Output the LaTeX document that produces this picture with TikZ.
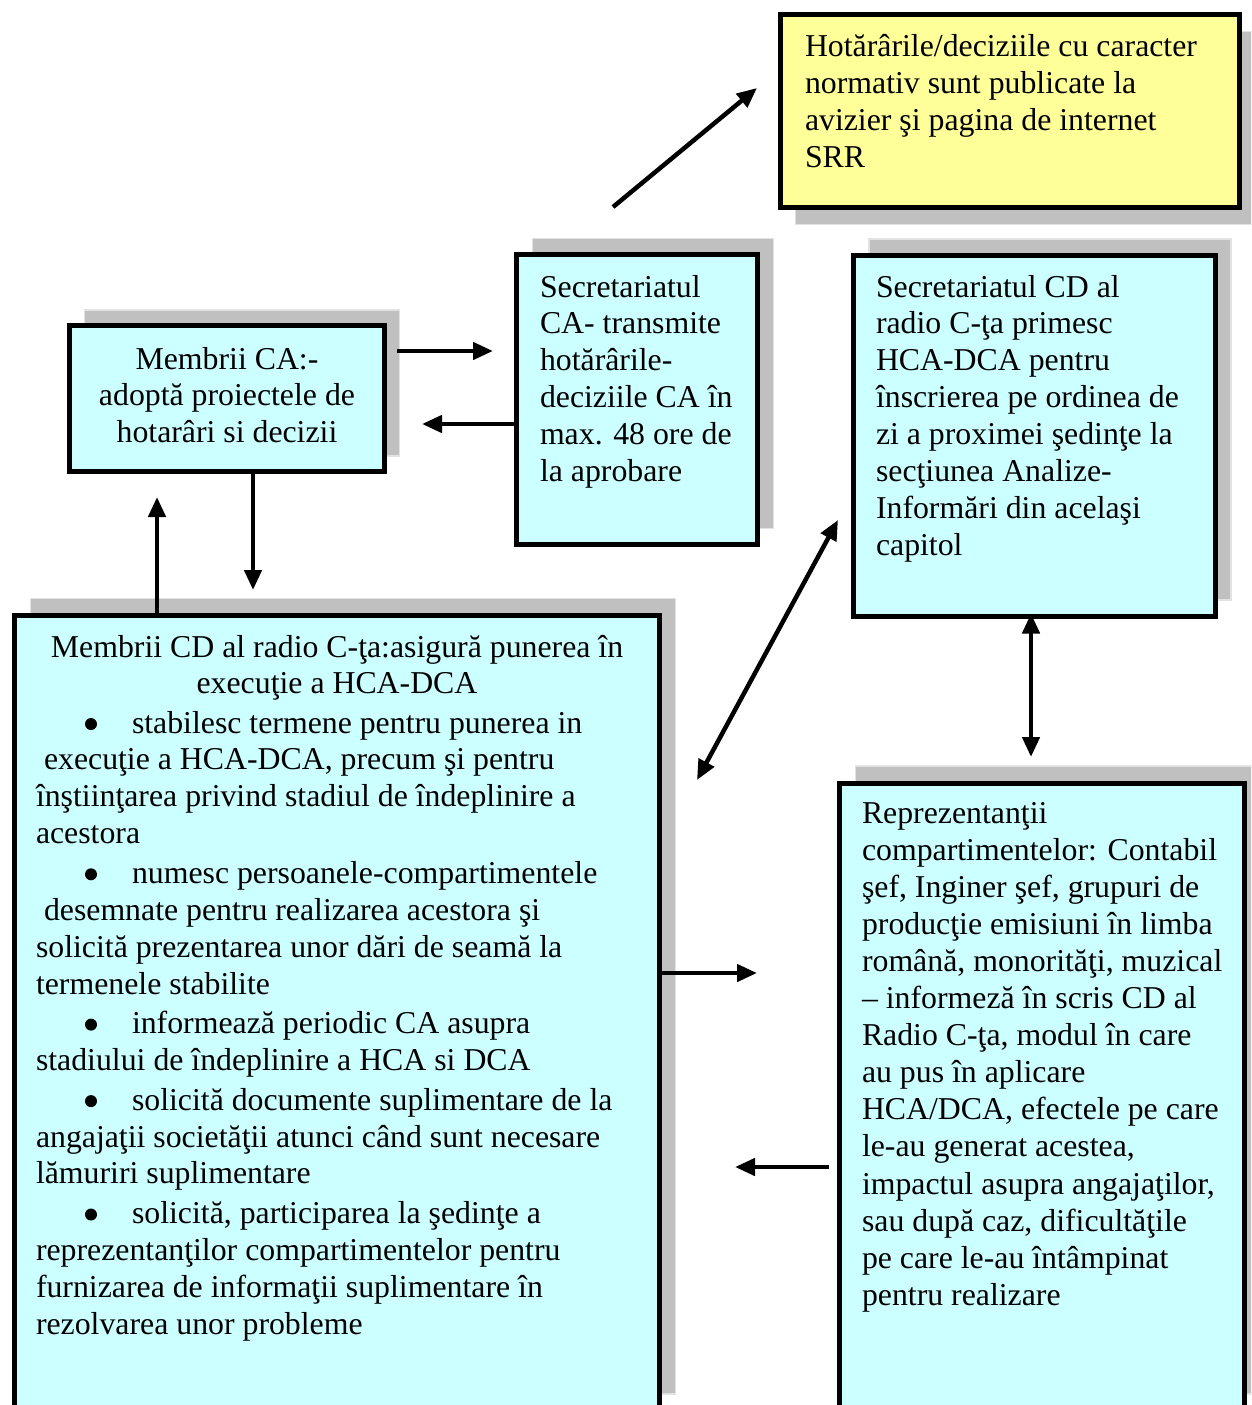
\documentclass[tikz,border=0pt]{standalone}
\usepackage{fontspec}
\setmainfont{Liberation Serif}
\usetikzlibrary{arrows.meta}
\definecolor{boxcyan}{HTML}{CCFFFF}
\definecolor{boxyellow}{HTML}{FFFF99}
\definecolor{shadowgray}{HTML}{C0C0C0}
\definecolor{shadowedge}{HTML}{E2E2E2}
\newcommand\txtfont{\fontsize{31.8}{36.9}\selectfont}
\newcommand\bul{\hspace*{96pt}}
\begin{document}
\begin{tikzpicture}[x=1pt,y=-1pt,
  box/.style={draw=black, line width=5pt, inner sep=0pt, outer sep=0pt, fill=boxcyan},
  shadebox/.style={fill=shadowgray, draw=shadowedge, line width=1.5pt},
  txtnode/.style={inner sep=0pt, outer sep=0pt, anchor=base west, font=\txtfont},
  bulletdot/.style={fill=black},
  arr/.style={line width=4.5pt, -{Triangle[length=20pt,width=17pt]}},
  darr/.style={line width=4.5pt, {Triangle[length=20pt,width=17pt]}-{Triangle[length=20pt,width=17pt]}}]
\useasboundingbox (0,0) rectangle (1251,1405);
\clip (0,0) rectangle (1251,1405);
\fill[white] (0,0) rectangle (1251,1405);

% boxes (placed first invisibly to get anchors)
\path
  node[box, fill=boxyellow, draw=none, minimum width=459pt, minimum height=193pt] (ylw) at (1010,111) {}
  node[box, draw=none, minimum width=241pt, minimum height=290pt] (seca) at (637,399.5) {}
  node[box, draw=none, minimum width=315pt, minimum height=146pt] (mca) at (227,398) {}
  node[box, draw=none, minimum width=362pt, minimum height=361pt] (secd) at (1034,435.5) {}
  node[box, draw=none, minimum width=645pt, minimum height=795.5pt] (big) at (337,1013.25) {}
  node[box, draw=none, minimum width=404.5pt, minimum height=628pt] (rep) at (1041.75,1097) {};

% shadows
\filldraw[shadebox] ([shift={(15,17)}]ylw.south west) rectangle ([shift={(15,17)}]ylw.north east);
\filldraw[shadebox] ([shift={(16,-16)}]seca.south west) rectangle ([shift={(16,-16)}]seca.north east);
\filldraw[shadebox] ([shift={(15,-15)}]mca.south west) rectangle ([shift={(15,-15)}]mca.north east);
\filldraw[shadebox] ([shift={(16,-16)}]secd.south west) rectangle ([shift={(16,-16)}]secd.north east);
\filldraw[shadebox] ([shift={(16,-17)}]big.south west) rectangle ([shift={(16,-17)}]big.north east);
\filldraw[shadebox] ([shift={(16,-17)}]rep.south west) rectangle ([shift={(16,-17)}]rep.north east);

% visible boxes
\draw[line width=5pt, fill=boxyellow] (ylw.south west) rectangle (ylw.north east);
\foreach \b in {seca,mca,secd,big,rep}
  \draw[line width=5pt, fill=boxcyan] (\b.south west) rectangle (\b.north east);

% texts
\node[txtnode] (ylwt) at (805,57) {\parbox[t]{440pt}{\raggedright
Hotărârile/deciziile cu caracter\\
normativ sunt publicate la\\
avizier şi pagina de internet\\
SRR}};

\node[txtnode] (secat) at (540,297) {\parbox[t]{215pt}{\raggedright
Secretariatul\\
CA- transmite\\
hotărârile-\\
deciziile CA în\\
max. 48 ore de\\
la aprobare}};

\node[txtnode, anchor=base] (mcat) at (227,369) {\parbox[t]{300pt}{\centering
Membrii CA:-\\
adoptă proiectele de\\
hotarâri si decizii}};

\node[txtnode] (secdt) at (876,297) {\parbox[t]{335pt}{\raggedright
Secretariatul CD al\\
radio C-ţa primesc\\
HCA-DCA pentru\\
înscrierea pe ordinea de\\
zi a proximei şedinţe la\\
secţiunea Analize-\\
Informări din acelaşi\\
capitol}};

\node[txtnode, anchor=base] (bigt) at (337,657) {\parbox[t]{620pt}{\centering
Membrii CD al radio C-ţa:asigură punerea în\\
execuţie a HCA-DCA}};

\node[txtnode] (bigl) at (36,733) {\parbox[t]{615pt}{\raggedright
\bul stabilesc termene pentru punerea in\\
\hspace*{8pt}execuţie a HCA-DCA, precum şi pentru\\
înştiinţarea privind stadiul de îndeplinire a\\
acestora\\[2.7pt]
\bul numesc persoanele-compartimentele\\
\hspace*{8pt}desemnate pentru realizarea acestora şi\\
solicită prezentarea unor dări de seamă la\\
termenele stabilite\\[2.7pt]
\bul informează periodic CA asupra\\
stadiului de îndeplinire a HCA si DCA\\[2.7pt]
\bul solicită documente suplimentare de la\\
angajaţii societăţii atunci când sunt necesare\\
lămuriri suplimentare\\[2.7pt]
\bul solicită, participarea la şedinţe a\\
reprezentanţilor compartimentelor pentru\\
furnizarea de informaţii suplimentare în\\
rezolvarea unor probleme}};

% bullet dots (baselines 733, 883.3, 1033.6, 1110.1, 1223.5)
\foreach \by in {733, 883.3, 1033.6, 1110.1, 1223.5}
  \fill[bulletdot] (91,\by-9) circle (6pt);

\node[txtnode, font=\fontsize{31.8}{37.1}\selectfont] (rept) at (862,823) {\parbox[t]{375pt}{\raggedright
Reprezentanţii\\
compartimentelor: Contabil\\
şef, Inginer şef, grupuri de\\
producţie emisiuni în limba\\
română, monorităţi, muzical\\
– informeză în scris CD al\\
Radio C-ţa, modul în care\\
au pus în aplicare\\
HCA/DCA, efectele pe care\\
le-au generat acestea,\\
impactul asupra angajaţilor,\\
sau după caz, dificultăţile\\
pe care le-au întâmpinat\\
pentru realizare}};

% arrow end points
\coordinate (a1s) at (613,207);
\coordinate (a1e) at (757,88);
\coordinate (a2s) at (397,351);
\coordinate (a2e) at (493,351);
\coordinate (a3e) at (422,424);
\coordinate (a4e) at (253,590);
\coordinate (a5e) at (157,497);
\coordinate (a6a) at (838,520);
\coordinate (a6b) at (697,780);
\coordinate (a7e) at (1031,757);
\coordinate (a8e) at (757,973);
\coordinate (a9s) at (829,1167);
\coordinate (a9e) at (735,1167);

% connectors
\draw[arr] (a1s) -- (a1e);
\draw[arr] (a2s) -- (a2e);
\draw[arr] (seca.west |- a3e) -- (a3e);
\draw[arr] (mca.south -| a4e) -- (a4e);
\draw[arr] (big.north -| a5e) -- (a5e);
\draw[darr] (a6b) -- (a6a);
\draw[darr] ([yshift=2.5pt]secd.south -| a7e) -- (a7e);
\draw[arr] (big.east |- a8e) -- (a8e);
\draw[arr] (a9s) -- (a9e);
\end{tikzpicture}
\end{document}
